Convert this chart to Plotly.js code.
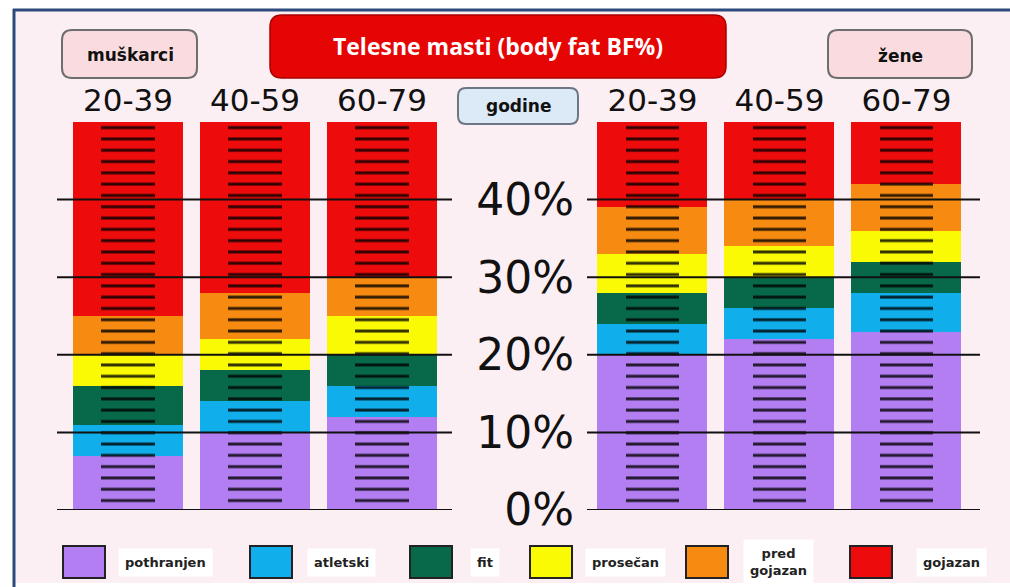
<!DOCTYPE html>
<html>
<head>
<meta charset="utf-8">
<script src="https://cdn.plot.ly/plotly-3.0.1.min.js"></script>
<style>html,body{margin:0;padding:0;background:#fff;}#chart{width:1010px;height:587px;}</style>
</head>
<body>
<div id="chart"></div>
<script>
// ---- data ----
const ages = ['20-39', '40-59', '60-79'];
const groups = ['muškarci', 'žene'];
const categories = ['pothranjen', 'atletski', 'fit', 'prosečan', 'pred gojazan', 'gojazan'];
const legendLabels = ['pothranjen', 'atletski', 'fit', 'prosečan', 'pred<br>gojazan', 'gojazan'];
// values per bar: muškarci 20-39, 40-59, 60-79, žene 20-39, 40-59, 60-79 (segment heights, %)
const pothranjen = [7, 10, 12, 20, 22, 23];
const atletski   = [4, 4, 4, 4, 4, 5];
const fit        = [5, 4, 4, 4, 4, 4];
const prosecan   = [4, 4, 5, 5, 4, 4];
const predGojazan= [5, 6, 5, 6, 6, 6];
const gojazan    = [25, 22, 20, 11, 10, 8];
const yTicks = [0, 10, 20, 30, 40];
const yTickText = ['0%', '10%', '20%', '30%', '40%'];
const titleText = 'Telesne masti (body fat BF%)';
const unitLabel = 'godine';

// ---- styling ----
const colors = ['#B27EF2', '#10AEEA', '#07694A', '#FAFA05', '#F78A10', '#EE0B0B'];
const W = 1010, H = 587, ML = 57, MR = 30, MT = 122, MB = 77;
const plotW = W - ML - MR, plotH = H - MT - MB;
const pxX = p => (p - ML) / plotW;
const pxY = p => (MT + plotH - p) / plotH;
const GROUP_GAP = 2.13;
const xRange = [-0.559, 6.709];

const series = [pothranjen, atletski, fit, prosecan, predGojazan, gojazan];
const xs = [];
const ticktext = [];
groups.forEach((g, gi) => ages.forEach((a, ai) => {
  xs.push(gi === 0 ? ai : 2 + GROUP_GAP + ai);
  ticktext.push(a);
}));

const traces = series.map((vals, i) => ({
  type: 'bar', name: categories[i], x: xs, y: vals, width: 0.866,
  marker: {color: colors[i], line: {width: 0}},
  xaxis: 'x', yaxis: 'y', hoverinfo: 'skip', showlegend: false
}));
const totals = xs.map((_, k) => series.reduce((s, v) => s + v[k], 0));
traces.push({
  type: 'bar', x: xs, y: totals, width: 0.42, xaxis: 'x2', yaxis: 'y',
  marker: {color: 'rgba(0,0,0,0)', line: {width: 0},
    pattern: {shape: '-', size: 11.3, solidity: 0.26, fgcolor: '#000', fgopacity: 0.8, bgcolor: 'rgba(0,0,0,0)'}},
  hoverinfo: 'skip', showlegend: false
});

function rr(x0, y0, x1, y1, r) {
  const l = pxX(x0), rt = pxX(x1), t = pxY(y0), b = pxY(y1);
  const rx = r / plotW, ry = r / plotH;
  return `M ${l+rx},${t} L ${rt-rx},${t} Q ${rt},${t} ${rt},${t-ry} L ${rt},${b+ry} Q ${rt},${b} ${rt-rx},${b} L ${l+rx},${b} Q ${l},${b} ${l},${b+ry} L ${l},${t-ry} Q ${l},${t} ${l+rx},${t} Z`;
}

const shapes = [];
// background frame
shapes.push({type: 'rect', xref: 'paper', yref: 'paper', layer: 'below',
  x0: pxX(13), x1: pxX(1040), y0: pxY(583), y1: pxY(9), fillcolor: '#FCEFF4', line: {width: 0}});
shapes.push({type: 'line', xref: 'paper', yref: 'paper', layer: 'below',
  x0: pxX(13), x1: pxX(1040), y0: pxY(10), y1: pxY(10), line: {color: '#2C4A7C', width: 3}});
shapes.push({type: 'line', xref: 'paper', yref: 'paper', layer: 'below',
  x0: pxX(14), x1: pxX(14), y0: pxY(9), y1: pxY(600), line: {color: '#2C4A7C', width: 3}});
// boxes
shapes.push({type: 'path', xref: 'paper', yref: 'paper', path: rr(270, 15, 726, 78, 12),
  fillcolor: '#E60505', line: {color: '#A80000', width: 1.5}});
shapes.push({type: 'path', xref: 'paper', yref: 'paper', path: rr(62, 30, 197, 78, 10),
  fillcolor: '#FADCE0', line: {color: '#6E6E6E', width: 2}});
shapes.push({type: 'path', xref: 'paper', yref: 'paper', path: rr(828, 30, 972, 78, 10),
  fillcolor: '#FADCE0', line: {color: '#6E6E6E', width: 2}});
shapes.push({type: 'path', xref: 'paper', yref: 'paper', path: rr(458, 88, 578, 124, 8),
  fillcolor: '#DCEAF8', line: {color: '#6E7686', width: 2}});
// gridlines (above bars, split around the labels)
yTicks.forEach(v => {
  shapes.push({type: 'line', xref: 'paper', yref: 'y', layer: 'above', x0: 0, x1: pxX(452), y0: v, y1: v, line: {color: '#111', width: 2}});
  shapes.push({type: 'line', xref: 'paper', yref: 'y', layer: 'above', x0: pxX(587), x1: 1, y0: v, y1: v, line: {color: '#111', width: 2}});
});

// custom legend
const legSquareLeft = [63, 250, 410, 530, 686, 850];
const legTextCenter = [165, 341, 485, 625, 778, 951];
const annotations = [];
categories.forEach((c, i) => {
  shapes.push({type: 'rect', xref: 'paper', yref: 'paper',
    x0: pxX(legSquareLeft[i]), x1: pxX(legSquareLeft[i] + 42), y0: pxY(578), y1: pxY(546),
    fillcolor: colors[i], line: {color: '#222', width: 2}});
  annotations.push({xref: 'paper', yref: 'paper', x: pxX(legTextCenter[i]), y: pxY(562),
    text: legendLabels[i], showarrow: false, xanchor: 'center', yanchor: 'middle',
    font: {family: 'DejaVu Sans', size: 13, color: '#222', weight: 'bold'},
    bgcolor: '#FFFFFF', borderpad: 6});
});
const boxText = (txt, x, y, size) => ({xref: 'paper', yref: 'paper', x: pxX(x), y: pxY(y), text: txt,
  showarrow: false, xanchor: 'center', yanchor: 'middle',
  font: {family: 'DejaVu Sans', size: size, color: '#111', weight: 'bold'}});
annotations.push(boxText(groups[0], 130, 55, 17));
annotations.push(boxText(groups[1], 900, 56, 17));
annotations.push(boxText(unitLabel, 518, 106, 17));

const layout = {
  width: W, height: H,
  margin: {l: ML, r: MR, t: MT, b: MB},
  paper_bgcolor: '#FFFFFF', plot_bgcolor: 'rgba(0,0,0,0)',
  barmode: 'stack', showlegend: false,
  title: {text: titleText, xref: 'container', yref: 'container', x: 498 / W, y: 1 - 47 / H,
    xanchor: 'center', yanchor: 'middle',
    font: {family: 'Open Sans', size: 23, color: '#FFFFFF', weight: 'bold'}},
  xaxis: {range: xRange, side: 'top', anchor: 'y', tickmode: 'array', tickvals: xs, ticktext: ticktext,
    showgrid: false, zeroline: false, showline: false, ticks: '', fixedrange: true, ticklabelstandoff: 4,
    tickfont: {family: 'DejaVu Sans', size: 31, color: '#111'}},
  xaxis2: {range: xRange, overlaying: 'x', anchor: 'y', visible: false, fixedrange: true},
  yaxis: {range: [0, 50], anchor: 'free', position: pxX(574), side: 'left', tickmode: 'array',
    tickvals: yTicks, ticktext: yTickText, showgrid: false, zeroline: false, showline: false, ticks: '',
    fixedrange: true, tickfont: {family: 'DejaVu Sans', size: 44, color: '#111'}},
  shapes: shapes, annotations: annotations
};

Plotly.newPlot('chart', traces, layout, {displayModeBar: false, staticPlot: true});
</script>
</body>
</html>
